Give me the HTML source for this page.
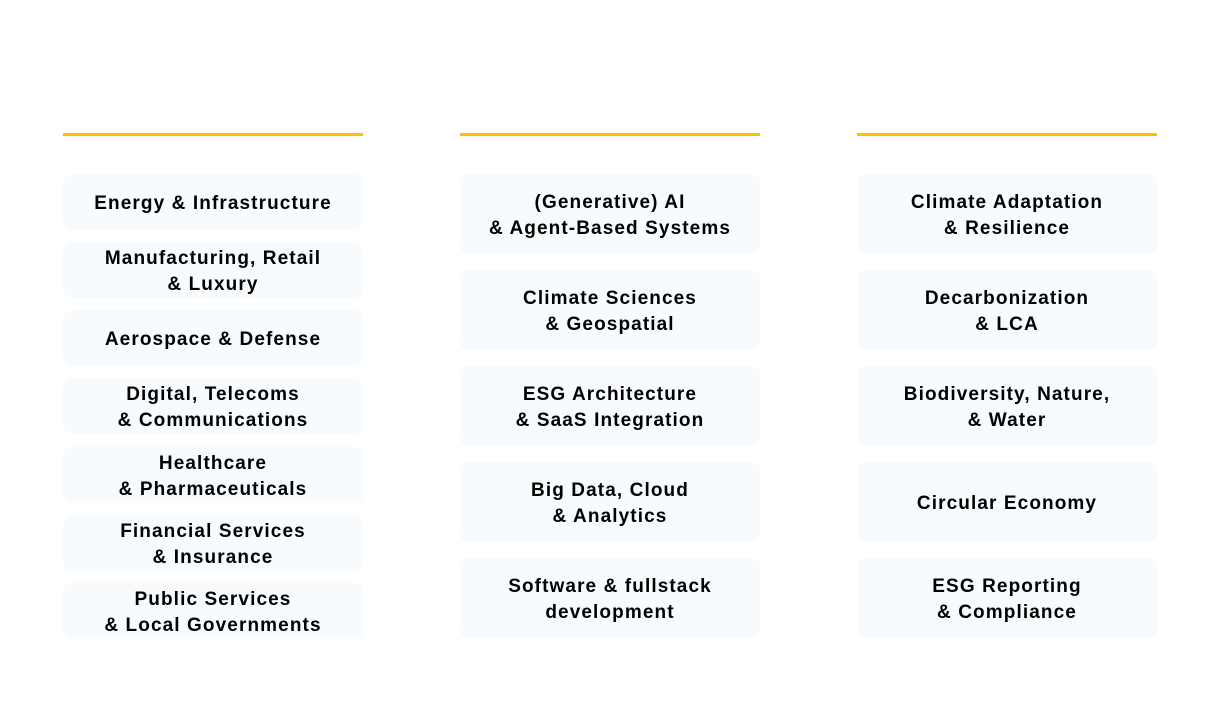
<!DOCTYPE html>
<html><head><style>
body{margin:0;width:1224px;height:719px;background:#fff;position:relative;font-family:"Liberation Sans",sans-serif;overflow:hidden}
.l{position:absolute;top:133px;height:3px;width:300px;background:#ffc000}
.b{position:absolute;width:300px;box-sizing:border-box;padding-top:3px;background:#f8fbfd;border-radius:9px;display:flex;align-items:center;justify-content:center;text-align:center;font-weight:bold;font-size:19px;line-height:26px;color:#000;letter-spacing:1.1px}
</style></head><body>
<div class="l" style="left:63px"></div>
<div class="l" style="left:460px"></div>
<div class="l" style="left:857px"></div>

<div class="b" style="left:63px;top:174px;height:56px">Energy &amp; Infrastructure</div>
<div class="b" style="left:63px;top:242px;height:56px">Manufacturing, Retail<br>&amp; Luxury</div>
<div class="b" style="left:63px;top:310px;height:56px">Aerospace &amp; Defense</div>
<div class="b" style="left:63px;top:378px;height:56px">Digital, Telecoms<br>&amp; Communications</div>
<div class="b" style="left:63px;top:447px;height:56px">Healthcare<br>&amp; Pharmaceuticals</div>
<div class="b" style="left:63px;top:515px;height:56px">Financial Services<br>&amp; Insurance</div>
<div class="b" style="left:63px;top:583px;height:56px">Public Services<br>&amp; Local Governments</div>

<div class="b" style="left:460px;top:174px;height:80px">(Generative) AI<br>&amp; Agent-Based Systems</div>
<div class="b" style="left:460px;top:270px;height:80px">Climate Sciences<br>&amp; Geospatial</div>
<div class="b" style="left:460px;top:366px;height:80px">ESG Architecture<br>&amp; SaaS Integration</div>
<div class="b" style="left:460px;top:462px;height:80px">Big Data, Cloud<br>&amp; Analytics</div>
<div class="b" style="left:460px;top:558px;height:80px">Software &amp; fullstack<br>development</div>

<div class="b" style="left:857px;top:174px;height:80px">Climate Adaptation<br>&amp; Resilience</div>
<div class="b" style="left:857px;top:270px;height:80px">Decarbonization<br>&amp; LCA</div>
<div class="b" style="left:857px;top:366px;height:80px">Biodiversity, Nature,<br>&amp; Water</div>
<div class="b" style="left:857px;top:462px;height:80px">Circular Economy</div>
<div class="b" style="left:857px;top:558px;height:80px">ESG Reporting<br>&amp; Compliance</div>
</body></html>
